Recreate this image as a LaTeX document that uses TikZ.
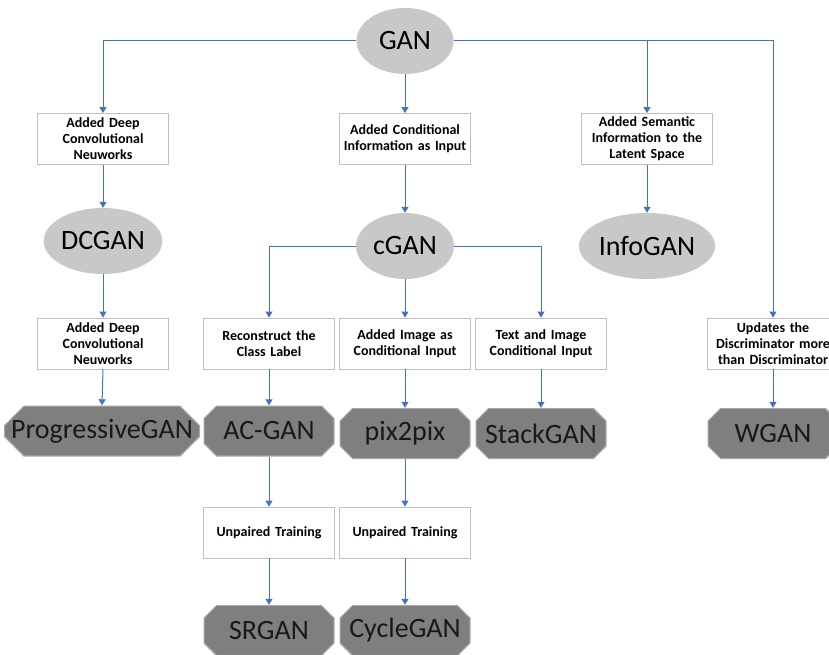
\documentclass[tikz,border=0pt]{standalone}
\usepackage{fontspec}
\setmainfont{Carlito}
\usepackage{tikz}
\usetikzlibrary{arrows.meta,shapes.geometric,calc}
\definecolor{gan-light}{HTML}{C8C8C8}
\definecolor{gan-dark}{HTML}{7F7F7F}
\definecolor{gan-rim}{HTML}{A6A6A6}
\definecolor{gan-frame}{HTML}{BFBFBF}
\definecolor{gan-blue}{HTML}{4472C4}
\tikzset{
  gan-cut/.store in=\gancut, gan-cut=13pt,
  gan-model/.style={ellipse, fill=gan-light, inner sep=0pt, minimum height=66pt,
    font=\fontsize{28}{30}\selectfont},
  gan-step/.style={draw=gan-frame, fill=white, line width=0.8pt, minimum width=131pt,
    minimum height=51pt, text width=129pt, align=center, inner sep=0pt,
    font=\bfseries\fontsize{14}{16}\selectfont},
  gan-variant/.style={rectangle, minimum width=131pt, minimum height=51pt, inner sep=0pt,
    text=black!90, font=\fontsize{28}{30}\selectfont,
    path picture={
      \draw[fill=gan-dark, draw=gan-rim, line width=1.2pt]
        let \p1=(path picture bounding box.south west),
            \p2=(path picture bounding box.north east) in
        (\x1+\gancut,\y1+0.6pt) -- (\x2-\gancut,\y1+0.6pt) -- (\x2-0.6pt,\y1+\gancut)
        -- (\x2-0.6pt,\y2-\gancut) -- (\x2-\gancut,\y2-0.6pt) -- (\x1+\gancut,\y2-0.6pt)
        -- (\x1+0.6pt,\y2-\gancut) -- (\x1+0.6pt,\y1+\gancut) -- cycle;
    }},
  gan-link/.style={draw=gan-blue, line width=1pt, -{Triangle[width=7pt,length=6pt]}}
}
\begin{document}
\begin{tikzpicture}[x=1pt, y=-1pt]
  \useasboundingbox (0,0) rectangle (829,655);

  % root and first level
  \node[gan-model, minimum width=97pt] (gan) at (405,41) {GAN};
  \node[gan-step] (deepA) at (103,139) {Added Deep\\Convolutional\\Neuworks};
  \node[gan-step] (cond) at (405,139) {Added Conditional\\Information as Input};
  \node[gan-step] (sem) at (647,139) {Added Semantic\\Information to the\\Latent Space};

  % ellipses of the second level
  \node[gan-model, minimum width=115pt] (dcgan) at (103,241) {DCGAN};
  \node[gan-model, minimum width=98pt] (cgan) at (405,246) {cGAN};
  \node[gan-model, minimum width=122pt] (infogan) at (647,246) {InfoGAN};

  % step boxes of the third level
  \node[gan-step] (deepB) at (103,343.5) {Added Deep\\Convolutional\\Neuworks};
  \node[gan-step] (recon) at (269,343.5) {Reconstruct the\\Class Label};
  \node[gan-step] (imgin) at (405,343.5) {Added Image as\\Conditional Input};
  \node[gan-step] (txtin) at (541,343.5) {Text and Image\\Conditional Input};
  \node[gan-step] (disc) at (773,343.5) {Updates the\\Discriminator more\\than Discriminator};

  % variants
  \node[gan-variant, minimum width=196pt, gan-cut=20pt] (prog) at (102,431) {ProgressiveGAN};
  \node[gan-variant] (acgan) at (269,431) {AC-GAN};
  \node[gan-variant] (pix) at (405,433.5) {pix2pix};
  \node[gan-variant] (stack) at (541,433.5) {StackGAN};
  \node[gan-variant] (wgan) at (773,433.5) {WGAN};

  % unpaired training
  \node[gan-step] (unpA) at (269,532.5) {Unpaired Training};
  \node[gan-step] (unpB) at (405,532.5) {Unpaired Training};
  \node[gan-variant] (srgan) at (269,630.5) {SRGAN};
  \node[gan-variant] (cycle) at (405,630.5) {CycleGAN};

  % connectors
  \draw[gan-link] (gan.west) -| (deepA.north);
  \draw[gan-link] (gan.south) -- (cond.north);
  \draw[gan-link] (gan.east) -| (sem.north);
  \draw[gan-link] (gan.east) -| (disc.north);
  \draw[gan-link] (deepA.south) -- (dcgan.north);
  \draw[gan-link] (cond.south) -- (cgan.north);
  \draw[gan-link] (sem.south) -- (infogan.north);
  \draw[gan-link] (dcgan.south) -- (deepB.north);
  \draw[gan-link] (cgan.west) -| (recon.north);
  \draw[gan-link] (cgan.south) -- (imgin.north);
  \draw[gan-link] (cgan.east) -| (txtin.north);
  \draw[gan-link] (deepB.south) -- (prog.north);
  \draw[gan-link] (recon.south) -- (acgan.north);
  \draw[gan-link] (imgin.south) -- (pix.north);
  \draw[gan-link] (txtin.south) -- (stack.north);
  \draw[gan-link] (disc.south) -- (wgan.north);
  \draw[gan-link] (acgan.south) -- (unpA.north);
  \draw[gan-link] (pix.south) -- (unpB.north);
  \draw[gan-link] (unpA.south) -- (srgan.north);
  \draw[gan-link] (unpB.south) -- (cycle.north);
\end{tikzpicture}
\end{document}
